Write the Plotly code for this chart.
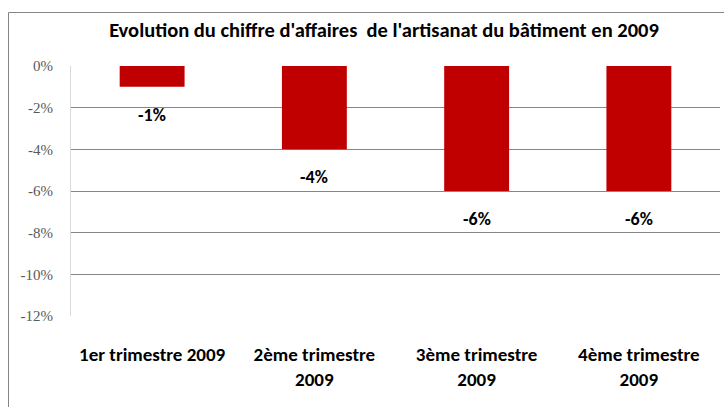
import plotly.graph_objects as go

categories = ["1er trimestre 2009", "2ème trimestre<br>2009", "3ème trimestre<br>2009", "4ème trimestre<br>2009"]
values = [-1, -4, -6, -6]
value_labels = ["-1%", "-4%", "-6%", "-6%"]
y_ticks = [0, -2, -4, -6, -8, -10, -12]
y_tick_labels = ["0%", "-2%", "-4%", "-6%", "-8%", "-10%", "-12%"]
grid_ticks = [-2, -4, -6, -8, -10]
title = "Evolution du chiffre d'affaires  de l'artisanat du bâtiment en 2009"

FONT = "Carlito, Calibri, Lato, sans-serif"

fig = go.Figure()
fig.add_trace(go.Bar(
    x=categories, y=values,
    marker=dict(color="#C00000", line=dict(width=0)),
    width=0.4,
    hoverinfo="skip",
))

for c, v, t in zip(categories, values, value_labels):
    fig.add_annotation(x=c, y=v, text="<b>" + t + "</b>", showarrow=False, yanchor="middle",
                       yshift=-28, font=dict(family=FONT, size=18, color="#000000"))

fig.update_layout(
    width=724, height=407,
    margin=dict(l=71, r=4, t=66, b=91),
    paper_bgcolor="white", plot_bgcolor="white",
    showlegend=False,
    bargap=0.6,
    title=dict(text="<b>" + title + "</b>", x=384 / 724, xanchor="center", y=1 - 30 / 407, yanchor="middle",
               font=dict(family=FONT, size=20.5, color="#000000")),
    xaxis=dict(
        type="category",
        tickvals=categories, ticktext=["<b>" + c + "</b>" for c in categories],
        tickfont=dict(family=FONT, size=19, color="#000000"),
        showline=False, showgrid=False, ticks="",
        ticklabelstandoff=25,
    ),
    yaxis=dict(
        range=[-12, 0],
        tickvals=y_ticks, ticktext=y_tick_labels,
        tickfont=dict(family="Liberation Serif, serif", size=15, color="#595959"),
        showgrid=False, zeroline=False,
        showline=True, linecolor="#D9D9D9", linewidth=1,
        ticks="", ticklabelstandoff=14,
        minor=dict(tickvals=grid_ticks, showgrid=True, gridcolor="#868686", gridwidth=1, ticks=""),
    ),
    shapes=[dict(type="rect", xref="paper", yref="paper",
                 x0=(8.5 - 71) / 649, x1=1.2, y0=-0.6, y1=1 + (66 - 12.5) / 250,
                 line=dict(color="#868686", width=1), fillcolor="rgba(0,0,0,0)", layer="below")],
)

fig.write_html("out.html", config={"displayModeBar": False},
               post_script="document.body.style.margin='0px';")
